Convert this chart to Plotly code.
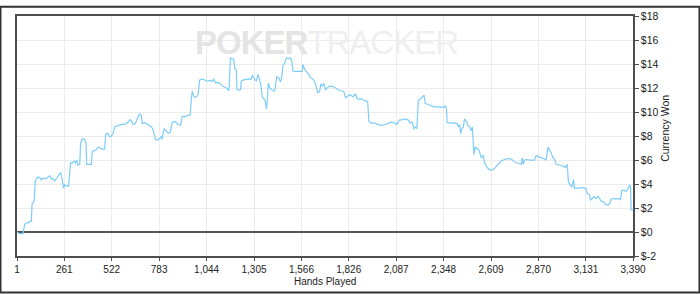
import plotly.graph_objects as go

hands = [1, 16, 34, 43, 52, 65, 71, 80, 84, 95, 102, 113, 126, 135, 144, 153, 162, 172, 181, 190,
         199, 208, 223, 230, 241, 249, 258, 263, 272, 285, 296, 304, 315, 322, 329, 337, 346, 351, 360, 373,
         381, 384, 401, 410, 415, 428, 437, 447, 456, 469, 483, 489, 502, 511, 520, 529, 538, 557, 575, 593,
         602, 615, 621, 630, 639, 652, 667, 676, 685, 690, 703, 722, 740, 749, 758, 764, 777, 786, 795, 799,
         804, 810, 822, 835, 844, 854, 865, 877, 886, 901, 909, 923, 942, 954, 960, 965, 973, 982, 997, 1006,
         1019, 1033, 1048, 1061, 1074, 1083, 1094, 1107, 1121, 1134, 1153, 1167, 1175, 1184, 1193, 1200, 1208, 1211, 1222, 1231,
         1235, 1248, 1263, 1277, 1290, 1296, 1303, 1310, 1318, 1327, 1336, 1345, 1351, 1360, 1367, 1373, 1378, 1384, 1391, 1400,
         1409, 1418, 1424, 1431, 1442, 1450, 1457, 1464, 1473, 1483, 1492, 1505, 1512, 1519, 1534, 1547, 1560, 1571, 1574, 1583,
         1593, 1602, 1611, 1620, 1633, 1644, 1657, 1666, 1673, 1681, 1688, 1699, 1706, 1717, 1739, 1757, 1776, 1798, 1809, 1822,
         1834, 1849, 1864, 1871, 1882, 1895, 1908, 1930, 1937, 1950, 1968, 1987, 2005, 2023, 2042, 2060, 2078, 2091, 2106, 2120,
         2133, 2152, 2164, 2175, 2185, 2194, 2201, 2209, 2225, 2240, 2247, 2262, 2280, 2298, 2317, 2335, 2350, 2357, 2363, 2368,
         2381, 2399, 2412, 2423, 2430, 2436, 2441, 2449, 2456, 2463, 2473, 2482, 2491, 2500, 2506, 2511, 2515, 2522, 2533, 2542,
         2550, 2555, 2561, 2566, 2573, 2583, 2592, 2606, 2619, 2632, 2647, 2665, 2683, 2702, 2716, 2729, 2738, 2753, 2766, 2775,
         2781, 2786, 2793, 2802, 2821, 2839, 2848, 2857, 2870, 2885, 2900, 2912, 2922, 2931, 2940, 2949, 2958, 2967, 2986, 3004,
         3017, 3028, 3035, 3044, 3054, 3063, 3068, 3083, 3096, 3109, 3123, 3132, 3138, 3151, 3156, 3169, 3178, 3187, 3197, 3206,
         3215, 3230, 3237, 3252, 3261, 3270, 3285, 3297, 3310, 3321, 3329, 3340, 3352, 3362, 3371, 3376, 3380, 3388]

won = [0.00, -0.14, -0.14, 0.62, 0.76, 0.76, 0.89, 0.89, 2.38, 2.52, 4.28, 4.55, 4.55, 4.34, 4.50, 4.42, 4.47, 4.55, 4.69, 4.42,
       4.47, 4.25, 4.55, 4.69, 4.96, 4.42, 3.66, 3.93, 3.82, 3.82, 5.77, 5.72, 5.91, 5.77, 5.99, 5.56, 5.61, 7.40, 7.75, 7.72,
       7.40, 5.64, 5.61, 5.64, 6.72, 6.80, 6.86, 7.07, 6.99, 6.91, 6.91, 8.16, 8.21, 7.94, 7.99, 8.21, 8.75, 8.89, 8.97, 8.97,
       9.08, 9.16, 9.35, 9.30, 8.97, 9.02, 9.62, 9.84, 9.70, 9.02, 9.13, 8.97, 8.75, 8.54, 8.08, 7.67, 7.67, 7.80, 7.94, 7.72,
       8.35, 8.62, 8.43, 8.21, 8.32, 9.08, 9.21, 9.16, 8.97, 8.89, 9.62, 9.62, 9.70, 9.78, 11.06, 11.73, 11.33, 11.19, 11.41, 12.68,
       12.74, 12.68, 12.55, 12.63, 12.55, 12.74, 12.41, 12.47, 12.33, 12.14, 12.01, 11.79, 14.50, 14.44, 14.39, 13.58, 13.50, 11.87, 11.82, 11.87,
       12.60, 12.68, 12.74, 12.76, 12.74, 13.09, 12.87, 12.68, 12.60, 13.14, 12.68, 12.01, 11.19, 11.11, 10.92, 10.24, 10.92, 12.41, 12.01, 11.87,
       11.79, 11.73, 12.55, 12.95, 12.82, 12.49, 12.87, 13.90, 14.04, 14.50, 14.44, 14.50, 14.31, 13.41, 13.36, 13.41, 13.36, 13.41, 13.96, 13.58,
       13.36, 13.22, 12.95, 12.82, 12.68, 12.28, 11.60, 11.73, 12.33, 12.14, 12.41, 11.87, 12.01, 12.14, 12.14, 11.95, 11.79, 11.73, 11.19, 11.33,
       11.46, 11.25, 11.52, 11.14, 11.06, 11.11, 10.98, 10.87, 9.24, 9.08, 9.08, 8.97, 8.89, 8.94, 9.08, 9.16, 9.08, 8.97, 9.35, 9.35,
       9.43, 9.35, 9.08, 9.16, 8.62, 8.75, 8.62, 10.98, 11.14, 11.41, 10.70, 10.65, 10.51, 10.43, 10.43, 10.38, 10.38, 10.51, 10.33, 9.11,
       9.08, 9.08, 9.08, 9.02, 8.75, 8.97, 8.21, 8.62, 8.70, 9.43, 9.24, 8.89, 8.75, 8.43, 8.75, 7.67, 6.45, 7.07, 6.99, 6.86,
       6.45, 6.18, 6.31, 6.37, 5.77, 5.56, 5.28, 5.18, 5.18, 5.37, 5.64, 5.91, 6.04, 6.12, 6.10, 5.99, 5.83, 5.77, 5.72, 5.64,
       6.18, 5.64, 5.99, 6.04, 5.99, 5.96, 5.99, 6.37, 6.26, 6.18, 6.10, 5.99, 7.07, 6.86, 6.59, 6.18, 6.10, 5.64, 5.56, 5.50,
       5.37, 5.64, 4.15, 3.93, 3.74, 4.36, 3.66, 3.66, 3.69, 3.69, 3.66, 3.60, 3.20, 3.12, 2.66, 2.85, 2.93, 2.79, 2.98, 2.79,
       2.57, 2.52, 2.30, 2.25, 2.36, 2.74, 2.79, 2.74, 2.79, 2.68, 3.47, 3.47, 3.39, 3.60, 3.88, 3.82, 1.85, 1.80]

x_ticks = [1, 261, 522, 783, 1044, 1305, 1566, 1826, 2087, 2348, 2609, 2870, 3131, 3390]
x_tick_text = ["1", "261", "522", "783", "1,044", "1,305", "1,566", "1,826", "2,087", "2,348",
               "2,609", "2,870", "3,131", "3,390"]
y_ticks = [-2, 0, 2, 4, 6, 8, 10, 12, 14, 16, 18]
y_tick_text = ["$-2", "$0", "$2", "$4", "$6", "$8", "$10", "$12", "$14", "$16", "$18"]

FONT = "Liberation Sans, Arial, sans-serif"
AXIS = "#4d4d4d"

fig = go.Figure()
fig.add_trace(go.Scatter(x=hands, y=won, mode="lines",
                         line=dict(color="#7ccdfb", width=1.2), hoverinfo="skip"))

fig.update_layout(
    width=700, height=294,
    margin=dict(l=17, r=67, t=10, b=38),
    paper_bgcolor="white", plot_bgcolor="white",
    showlegend=False,
    font=dict(family=FONT, size=10, color="#222"),
    xaxis=dict(range=[1, 3390], tickvals=x_ticks, ticktext=x_tick_text,
               showgrid=True, gridcolor="#ececec", gridwidth=1,
               showline=True, linecolor=AXIS, linewidth=1.5, mirror=True,
               ticks="outside", ticklen=3, tickcolor=AXIS,
               tickfont=dict(size=10, family=FONT, color="#222"),
               zeroline=False, fixedrange=True),
    yaxis=dict(range=[-2, 18], tickvals=y_ticks, ticktext=y_tick_text, side="right",
               showgrid=True, gridcolor="#ececec", gridwidth=1,
               showline=True, linecolor=AXIS, linewidth=1.5, mirror=True,
               ticks="outside", ticklen=4, tickcolor=AXIS,
               tickfont=dict(size=10.5, family=FONT, color="#222"),
               zeroline=True, zerolinecolor="#555555", zerolinewidth=1.5, fixedrange=True),
    annotations=[
        dict(text="Hands Played", xref="paper", yref="paper", x=0.5, y=-0.108,
             xanchor="center", yanchor="middle", showarrow=False,
             font=dict(size=10, family=FONT, color="#222")),
        dict(text="Currency Won", xref="paper", yref="paper", x=1.052, y=0.53,
             xanchor="center", yanchor="middle", showarrow=False, textangle=-90,
             font=dict(size=10.5, family=FONT, color="#222")),
        dict(text="<span style='letter-spacing:-1px'><b>POKER</b><span style='color:#efefef'>TRACKER</span></span>",
             xref="paper", yref="paper", x=0.503, y=0.89,
             xanchor="center", yanchor="middle", showarrow=False,
             font=dict(size=33, family=FONT, color="#e4e4e4")),
    ],
    shapes=[
        dict(type="rect", xref="paper", yref="paper",
             x0=-0.0268, x1=1.1079, y0=-0.1524, y1=1.0386,
             line=dict(color="#333333", width=2), fillcolor="rgba(0,0,0,0)", layer="above"),
    ],
)

fig.write_html("out.html")
